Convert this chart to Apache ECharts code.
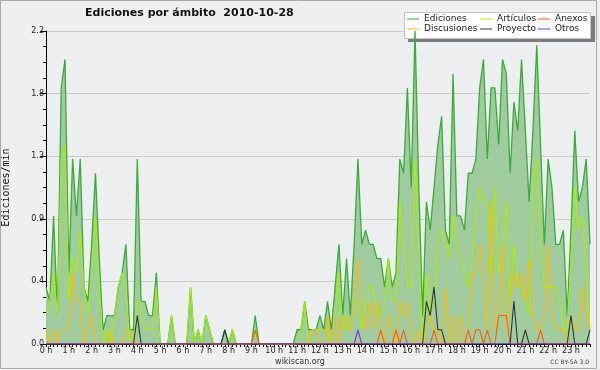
<!DOCTYPE html>
<html><head><meta charset="utf-8">
<script src="https://cdn.jsdelivr.net/npm/echarts@6/dist/echarts.min.js"></script>
<style>html,body{margin:0;padding:0;background:#efefef}#c{width:600px;height:370px}</style>
</head><body><div id="c"></div><script>
const hourLabels = ['0 h','1 h','2 h','3 h','4 h','5 h','6 h','7 h','8 h','9 h','10 h','11 h','12 h','13 h','14 h','15 h','16 h','17 h','18 h','19 h','20 h','21 h','22 h','23 h'];
const yTickLabels = ['0.0','0.4','0.9','1.3','1.8','2.2'];
const seriesNames = ['Ediciones','Artículos','Discusiones','Anexos','Proyecto','Otros'];

const ediciones = [0.4,0.3,0.9,0.2,1.8,2.0,0.5,1.3,0.9,1.3,
 0.4,0.3,0.7,1.2,0.6,0.1,0.2,0.2,0.2,0.4,
 0.5,0.7,0.1,0.1,1.3,0.3,0.3,0.2,0.2,0.5,
 0,0,0,0.2,0,0,0,0,0.4,0,
 0.1,0,0.2,0.1,0,0,0,0.1,0,0.1,
 0,0,0,0,0,0.2,0,0,0,0,
 0,0,0,0,0,0,0.1,0.1,0.3,0.1,
 0.1,0.1,0.2,0.1,0.3,0.1,0.4,0.7,0.2,0.6,
 0.2,0.7,1.3,0.7,0.8,0.7,0.7,0.6,0.6,0.4,
 0.6,0.4,0.5,1.3,1.2,1.8,1.1,2.2,1.1,0.2,
 1.0,0.8,1.1,1.4,1.6,0.8,0.7,1.9,0.9,0.9,
 0.8,1.2,1.2,1.3,1.8,2.0,1.3,1.8,1.8,1.4,
 2.0,1.9,1.2,1.7,1.5,2.0,1.5,1.0,1.5,2.1,
 1.4,0.7,1.3,1.1,0.7,0.7,0.8,0.2,0.8,1.5,
 1.0,1.1,1.3,0.7];
const articulos = [0.2,0.3,0.5,0.2,1.3,1.4,0.3,0.6,0.5,0.8,
 0.4,0.2,0.5,0.9,0.4,0,0.1,0,0.2,0.4,
 0.5,0.4,0,0,0.3,0.3,0.1,0.1,0.1,0.4,
 0,0,0,0.2,0,0,0,0,0.4,0,
 0.1,0,0.2,0.1,0,0,0,0,0,0.1,
 0,0,0,0,0,0.1,0,0,0,0,
 0,0,0,0,0,0,0,0.1,0.3,0,
 0.1,0.1,0.1,0.1,0.1,0,0.2,0.5,0.1,0.2,
 0.1,0.3,0.3,0.1,0.3,0.4,0.4,0.2,0.2,0.3,
 0.6,0.3,0.3,1.0,0.7,0.4,0.4,1.3,0.7,0,
 0.5,0.2,0.3,0.7,0.8,0.7,0.6,0.9,0.7,0.6,
 0.5,0.4,0.6,0.9,1.1,1.0,1.0,0.5,1.1,0.5,
 0.6,1.0,0.3,0.7,0.4,0.4,0.3,0.2,1.1,1.3,
 0.7,0.4,0.4,0.4,0.4,0.3,0.1,0.1,0.6,1.1,
 0.8,0.9,0.5,0.1];
const discusiones = [0.1,0,0.1,0,0.1,0.1,0.1,0.5,0.3,0.3,
 0,0.1,0.2,0,0,0,0,0.1,0,0,
 0,0.1,0.1,0,0,0,0,0,0,0,
 0,0,0,0,0,0,0,0,0,0,
 0,0,0,0,0,0,0,0,0,0,
 0,0,0,0,0,0,0,0,0,0,
 0,0,0,0,0,0,0,0,0,0,
 0.1,0.1,0,0,0.2,0,0.2,0,0.2,0.1,
 0.1,0.3,0.6,0.2,0.1,0.3,0.1,0.3,0.1,0,
 0.2,0.1,0,0.3,0.2,0.3,0.1,0,0.1,0,
 0.1,0.2,0.1,0.1,0,0.4,0,0.2,0,0.2,
 0,0.1,0.5,0.5,0.7,0.5,0.1,1.0,0.1,0.2,
 0.7,0.1,0.3,0.5,0.4,0.5,0.3,0.6,0.2,0.1,
 0.1,0.2,0.7,0.2,0.1,0.1,0.1,0,0.2,0.1,
 0.1,0.4,0.2,0.1];
const anexos = [0,0,0,0,0,0,0,0,0,0,
 0,0,0,0,0,0,0,0,0,0,
 0,0,0,0,0,0,0,0,0,0,
 0,0,0,0,0,0,0,0,0,0,
 0,0,0,0,0,0,0,0,0,0,
 0,0,0,0,0,0.1,0,0,0,0,
 0,0,0,0,0,0,0,0,0,0,
 0,0,0,0,0,0,0,0,0,0,
 0,0,0,0,0,0,0,0,0.1,0,
 0,0,0.1,0,0.1,0,0,0,0,0,
 0,0,0.1,0,0,0,0,0,0,0,
 0,0.1,0,0.1,0.1,0,0.1,0,0,0.2,
 0.2,0.2,0,0,0,0,0,0,0,0,
 0.1,0,0,0,0,0,0,0,0,0,
 0,0,0,0];
const proyecto = [0,0,0,0,0,0,0,0,0,0,
 0,0,0,0,0,0,0,0,0,0,
 0,0,0,0,0.2,0,0,0,0,0,
 0,0,0,0,0,0,0,0,0,0,
 0,0,0,0,0,0,0,0.1,0,0,
 0,0,0,0,0,0,0,0,0,0,
 0,0,0,0,0,0,0,0,0,0,
 0,0,0,0,0,0,0,0,0,0,
 0,0,0,0,0,0,0,0,0,0,
 0,0,0,0,0,0,0,0,0,0,
 0.3,0.2,0.4,0.1,0.1,0,0,0,0,0,
 0,0,0,0,0,0,0,0,0,0,
 0,0,0,0.3,0,0,0.1,0,0,0,
 0,0,0,0,0,0,0,0,0.2,0,
 0,0,0,0.1];
const otros = [0,0,0,0,0,0,0,0,0,0,
 0,0,0,0,0,0,0,0,0,0,
 0,0,0,0,0,0,0,0,0,0,
 0,0,0,0,0,0,0,0,0,0,
 0,0,0,0,0,0,0,0,0,0,
 0,0,0,0,0,0,0,0,0,0,
 0,0,0,0,0,0,0,0,0,0,
 0,0,0,0,0,0,0,0,0,0,
 0,0,0.1,0,0,0,0,0,0,0,
 0,0,0,0,0,0,0,0,0,0,
 0,0,0,0,0,0,0,0,0,0,
 0,0,0,0,0,0,0,0,0,0,
 0,0,0,0,0,0,0,0,0,0,
 0,0,0,0,0,0,0,0,0,0,
 0,0,0,0];

const categories = [];
hourLabels.forEach(function(h, hi){ for (let m = 0; m < 6; m++) categories.push(hi + ':' + m + '0'); });

const chart = echarts.init(document.getElementById('c'));
const FONT = 'DejaVu Sans';
function lineSeries(name, data, color, extra) {
  return Object.assign({
    name: name, type: 'line', data: data, symbol: 'none', silent: true,
    lineStyle: {color: color, width: 1.1}, itemStyle: {color: color}
  }, extra || {});
}
const legendCommon = {
  orient: 'vertical', top: 14, padding: 0, itemGap: 0, itemWidth: 12, itemHeight: 1,
  icon: 'path://M0 0H12V1H0Z', selectedMode: false,
  textStyle: {fontSize: 9, lineHeight: 10, fontFamily: FONT, color: '#222'}
};
chart.setOption({
  animation: false,
  backgroundColor: '#efefef',
  title: {text: 'Ediciones por ámbito  2010-10-28', left: 85, top: 8, padding: 0,
    textStyle: {fontSize: 11, fontWeight: 'bold', fontFamily: FONT, color: '#111'}},
  legend: [
    Object.assign({}, legendCommon, {left: 407, data: [seriesNames[0], seriesNames[2]]}),
    Object.assign({}, legendCommon, {left: 480, data: [seriesNames[1], seriesNames[4]]}),
    Object.assign({}, legendCommon, {left: 538, data: [seriesNames[3], seriesNames[5]]})
  ],
  grid: {left: 46, top: 31, width: 544, height: 313, show: true, backgroundColor: '#edeef0', borderWidth: 0,
    containLabel: false, outerBoundsMode: 'none'},
  xAxis: {
    type: 'category', data: categories, boundaryGap: false,
    axisLine: {lineStyle: {color: '#000', width: 1}},
    axisTick: {interval: 0, length: 3, lineStyle: {color: '#000'}},
    axisLabel: {interval: 5, margin: 3, fontSize: 8, fontFamily: FONT, color: '#222',
      formatter: function(v, i){ return hourLabels[Math.floor(i / 6)]; }},
    splitLine: {show: false}
  },
  yAxis: {
    type: 'value', min: 0, max: 2.2, interval: 0.44,
    name: 'Ediciones/min', nameLocation: 'middle', nameGap: 35, nameRotate: 90,
    nameTextStyle: {fontSize: 10, fontFamily: 'DejaVu Sans Mono', color: '#111'},
    axisLine: {show: true, lineStyle: {color: '#000', width: 1}},
    axisTick: {show: true, length: 6, lineStyle: {color: '#000'}},
    minorTick: {show: true, splitNumber: 4, length: 3, lineStyle: {color: '#000'}},
    axisLabel: {margin: 2, fontSize: 8, fontFamily: FONT, color: '#222',
      formatter: function(v){ return yTickLabels[Math.round(v / 0.44)]; }},
    splitLine: {lineStyle: {color: '#cbcbcb', width: 1}}
  },
  series: [
    lineSeries(seriesNames[0], ediciones, '#3aab3a', {lineStyle: {color: '#3aab3a', width: 1.3},
      areaStyle: {color: '#9fcb9f', opacity: 1}}),
    lineSeries(seriesNames[1], articulos, '#aaee00'),
    lineSeries(seriesNames[2], discusiones, '#ffbb00'),
    lineSeries(seriesNames[3], anexos, '#ff5a10'),
    lineSeries(seriesNames[4], proyecto, '#333333'),
    lineSeries(seriesNames[5], otros, '#7a30ee')
  ],
  graphic: [
    {type: 'rect', z: 0, silent: true, shape: {x: 0.5, y: 0.5, width: 596, height: 368},
      style: {fill: 'none', stroke: '#a9a9a9', lineWidth: 1}},
    {type: 'rect', z: 3, silent: true, shape: {x: 408, y: 16, width: 187, height: 26},
      style: {fill: '#7d7d7d'}},
    {type: 'rect', z: 3, silent: true, shape: {x: 404.5, y: 12.5, width: 186, height: 26},
      style: {fill: '#ffffff', stroke: '#c4c4c4', lineWidth: 1}},
    {type: 'text', z: 3, silent: true, x: 300, y: 362,
      style: {text: 'wikiscan.org', fill: '#333', font: '8px "DejaVu Sans"', align: 'center', verticalAlign: 'middle'}},
    {type: 'text', z: 3, silent: true, x: 589, y: 362,
      style: {text: 'CC BY-SA 3.0', fill: '#444', font: '6px "DejaVu Sans"', align: 'right', verticalAlign: 'middle'}}
  ]
});
</script></body></html>
